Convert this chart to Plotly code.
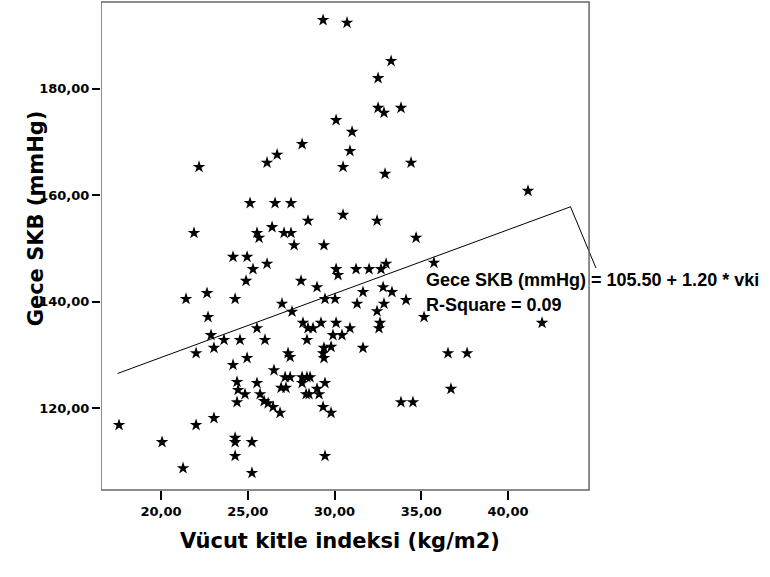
import plotly.graph_objects as go

# Vücut kitle indeksi (kg/m2)
vki = [29.34, 30.72, 33.26, 32.51, 32.51, 32.85, 33.83, 30.09, 28.13, 31.01,
       30.89, 26.69, 26.11, 22.19, 30.49, 34.41, 32.91, 41.15, 25.13, 26.57,
       27.49, 30.49, 28.47, 32.45, 21.90, 25.53, 25.65, 26.40, 27.09, 27.49,
       27.67, 29.39, 34.70, 24.15, 24.96, 26.11, 25.30, 24.90, 28.07, 28.99,
       30.09, 30.20, 31.24, 31.99, 32.68, 32.97, 35.73, 32.80, 33.31, 31.64,
       21.44, 22.65, 24.27, 26.97, 27.55, 29.45, 30.03, 31.30, 32.45, 32.85,
       34.12, 22.71, 25.53, 28.18, 28.47, 28.76, 29.22, 30.09, 30.89, 32.62,
       32.56, 35.16, 41.96, 22.88, 23.63, 24.55, 25.99, 28.41, 29.91, 30.43,
       23.05, 22.02, 31.64, 29.39, 29.80, 27.32, 27.44, 29.34, 29.39, 24.96,
       24.15, 26.51, 27.15, 27.44, 28.13, 28.41, 28.59, 24.38, 24.44, 25.53,
       29.45, 24.84, 25.71, 26.92, 27.20, 28.13, 28.36, 28.53, 28.99, 29.11,
       25.94, 26.17, 26.46, 24.38, 26.86, 29.34, 29.80, 17.58, 22.02, 23.05,
       20.06, 24.27, 24.27, 25.24, 24.27, 29.45, 21.27, 25.24, 36.54, 37.64,
       36.71, 33.83, 34.52]

# Gece SKB (mmHg)
skb = [192.9, 192.4, 185.2, 182.0, 176.4, 175.5, 176.4, 174.1, 169.6, 171.9,
       168.3, 167.6, 166.1, 165.3, 165.3, 166.1, 164.0, 160.8, 158.5, 158.5,
       158.5, 156.3, 155.2, 155.2, 152.9, 152.9, 152.0, 154.0, 152.9, 152.9,
       150.6, 150.6, 152.0, 148.4, 148.4, 147.1, 146.1, 143.9, 143.9, 142.7,
       146.1, 145.0, 146.1, 146.1, 146.1, 147.1, 147.3, 142.7, 141.8, 141.8,
       140.5, 141.6, 140.5, 139.6, 138.1, 140.5, 140.5, 139.6, 138.2, 139.6,
       140.3, 137.1, 135.0, 136.0, 135.0, 135.0, 136.0, 136.0, 135.0, 136.0,
       135.0, 137.1, 136.0, 133.7, 132.8, 132.8, 132.8, 132.8, 133.7, 133.7,
       131.3, 130.3, 131.3, 131.3, 131.5, 130.3, 129.6, 130.3, 129.4, 129.4,
       128.1, 127.1, 125.8, 125.8, 125.8, 125.8, 125.8, 124.9, 123.4, 124.7,
       124.7, 122.6, 122.6, 123.8, 123.8, 124.7, 122.6, 122.6, 123.6, 122.6,
       121.3, 120.9, 120.2, 121.1, 119.1, 120.2, 119.1, 116.8, 116.8, 118.1,
       113.6, 114.4, 113.6, 113.6, 111.0, 111.0, 108.7, 107.8, 130.3, 130.3,
       123.6, 121.1, 121.1]

# fitted line as drawn (including the end artifact)
fit_x = [17.50, 43.60, 45.07]
fit_y = [126.50, 157.82, 146.30]

x_ticks = [20, 25, 30, 35, 40]
x_ticktext = ["20,00", "25,00", "30,00", "35,00", "40,00"]
y_ticks = [120, 140, 160, 180]
y_ticktext = ["120,00", "140,00", "160,00", "180,00"]

FONT = "DejaVu Sans"
ANN_FONT = "Liberation Sans, Arial"

fig = go.Figure()
fig.add_trace(go.Scatter(
    x=fit_x, y=fit_y, mode="lines",
    line=dict(color="black", width=1), hoverinfo="skip", showlegend=False))
fig.add_trace(go.Scatter(
    x=vki, y=skb, mode="markers",
    marker=dict(symbol="star", size=9.5, color="black", line=dict(width=0)),
    showlegend=False))

fig.add_shape(type="rect", xref="x", yref="paper", x0=16.54, x1=44.67, y0=0, y1=1,
              line=dict(color="#666666", width=1.5), fillcolor="rgba(0,0,0,0)")

fig.update_xaxes(range=[16.54, 45.30], showgrid=False, zeroline=False, showline=False,
                 tickvals=x_ticks, ticktext=x_ticktext, ticks="outside", ticklen=9,
                 tickwidth=2, tickcolor="black",
                 tickfont=dict(family=FONT, size=13, color="black", weight="bold"))
fig.update_yaxes(range=[104.6, 196.3], showgrid=False, zeroline=False, showline=False,
                 tickvals=y_ticks, ticktext=y_ticktext, ticks="outside", ticklen=8,
                 tickwidth=2, tickcolor="black",
                 tickfont=dict(family=FONT, size=13, color="black", weight="bold"))

fig.add_annotation(xref="paper", yref="paper", x=-0.158, y=0.557, textangle=-90,
                   text="Gece SKB (mmHg)", showarrow=False,
                   font=dict(family=FONT, size=21, color="black", weight="bold"))
fig.add_annotation(xref="paper", yref="paper", x=0.479, y=-0.133,
                   text="Vücut kitle indeksi (kg/m2)", showarrow=False,
                   font=dict(family=FONT, size=21, color="black", weight="bold"))
fig.add_annotation(xref="x", yref="y", x=35.16, y=144.06, xanchor="left",
                   text="Gece SKB (mmHg) = 105.50 + 1.20 * vki", showarrow=False,
                   font=dict(family=ANN_FONT, size=18, color="black", weight="bold"))
fig.add_annotation(xref="x", yref="y", x=35.16, y=139.4, xanchor="left",
                   text="R-Square = 0.09", showarrow=False,
                   font=dict(family=ANN_FONT, size=18, color="black", weight="bold"))

fig.update_layout(width=770, height=577, plot_bgcolor="white", paper_bgcolor="white",
                  margin=dict(l=101, r=170, t=2, b=87), showlegend=False)

fig.write_html("out.html", config={"displayModeBar": False},
               post_script="document.body.style.margin='0';document.body.style.padding='0';")
